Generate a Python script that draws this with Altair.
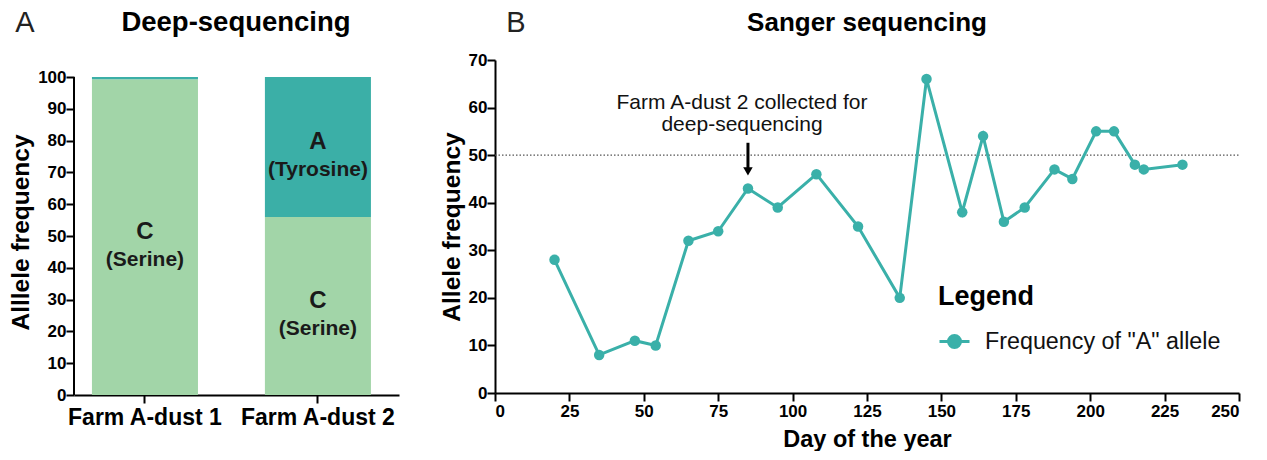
import altair as alt
import pandas as pd

# ---- Panel A data (deep-sequencing) ----
samples = ["Farm A-dust 1", "Farm A-dust 2"]
c_freq = [99.3, 56.0]
a_freq = [0.7, 44.0]
c_labels = ["C", "(Serine)"]
a_labels = ["A", "(Tyrosine)"]
pct_ticks = list(range(0, 101, 10))

# ---- Panel B data (Sanger sequencing) ----
days = [20, 35, 47, 54, 65, 75, 85, 95, 108, 122, 136, 145, 157, 164, 171, 178,
        188, 194, 202, 208, 215, 218, 231]
freq_a = [28, 8, 11, 10, 32, 34, 43, 39, 46, 35, 20, 66, 38, 54, 36, 39,
          47, 45, 55, 55, 48, 47, 48]
day_ticks = list(range(0, 251, 25))
freq_ticks = list(range(0, 71, 10))
series_name = 'Frequency of "A" allele'
threshold = [50]
annot_day = [85]
annot_text_day = [83]
annot_text = ["Farm A-dust 2 collected for\ndeep-sequencing"]
annot_text_y = [61.0]
arrow_from = [52.6]
arrow_to = [46.6]
panel_letters = ["A", "B"]
panel_titles = ["Deep-sequencing", "Sanger sequencing"]

LIGHT = "#A2D5A8"
DARK = "#3BAFA7"
TEAL = "#3AB0A9"
FONT = "Liberation Sans"

HA = 335          # panel A plot height (the 0-100 axis covers the lower 318 px)
A_TOP = 100 * HA / 318.0

rows = []
for s, c, a in zip(samples, c_freq, a_freq):
    rows.append({"sample": s, "allele": "C", "freq": c, "order": 0})
    rows.append({"sample": s, "allele": "A", "freq": a, "order": 1})
bar_df = pd.DataFrame(rows)

lab_rows = []
for s, c, a in zip(samples, c_freq, a_freq):
    lab_rows.append({"sample": s, "letter": c_labels[0], "aa": c_labels[1], "mid": c / 2})
    if a >= 5:
        lab_rows.append({"sample": s, "letter": a_labels[0], "aa": a_labels[1], "mid": c + a / 2})
lab_df = pd.DataFrame(lab_rows)

axA_x = alt.Axis(title=None, labelAngle=0, labelFontSize=23, labelPadding=3,
                 bandPosition=0.5, ticks=True)
axA_y = alt.Axis(title="Alllele frequency", values=pct_ticks, domain=False,
                 titlePadding=4, titleY=172, titleFontSize=24.5)
scA_x = alt.Scale(domain=samples, paddingInner=0.387, paddingOuter=0.133, align=0.39)
scA_y = alt.Scale(domain=[0, A_TOP], nice=False)

bars = alt.Chart(bar_df).mark_bar().encode(
    x=alt.X("sample:N", sort=samples, scale=scA_x, axis=axA_x),
    y=alt.Y("freq:Q", stack="zero", scale=scA_y, axis=axA_y),
    color=alt.Color("allele:N", scale=alt.Scale(domain=["C", "A"], range=[LIGHT, DARK]),
                    legend=None),
    order=alt.Order("order:Q"),
)

domA = alt.Chart(pd.DataFrame({"lo": [pct_ticks[0]], "hi": [pct_ticks[-1]]})).mark_rule(
    color="black", strokeWidth=2).encode(
    x=alt.value(0), y=alt.Y("lo:Q", scale=scA_y, axis=axA_y), y2="hi:Q")

lab_letter = alt.Chart(lab_df).mark_text(font=FONT, fontSize=24, fontWeight="bold",
                                         color="#1a1a1a", dy=-5).encode(
    x=alt.X("sample:N", sort=samples, scale=scA_x, axis=axA_x),
    y=alt.Y("mid:Q", scale=scA_y, axis=axA_y),
    text="letter:N")
lab_aa = alt.Chart(lab_df).mark_text(font=FONT, fontSize=21, fontWeight="bold",
                                     color="#1a1a1a", dy=23).encode(
    x=alt.X("sample:N", sort=samples, scale=scA_x, axis=axA_x),
    y=alt.Y("mid:Q", scale=scA_y, axis=axA_y),
    text="aa:N")

letterA = alt.Chart(pd.DataFrame({"t": [panel_letters[0]]})).mark_text(
    font=FONT, fontSize=29, color="#222", baseline="middle", align="center").encode(
    text="t:N", x=alt.value(-49), y=alt.value(-37))
titleA = alt.Chart(pd.DataFrame({"t": [panel_titles[0]]})).mark_text(
    font=FONT, fontSize=27.5, fontWeight="bold", color="black", baseline="middle",
    align="center").encode(text="t:N", x=alt.value(162), y=alt.value(-37))

panelA = alt.layer(bars, domA, lab_letter, lab_aa, letterA, titleA).properties(
    width=325, height=HA)

# ---- Panel B ----
line_df = pd.DataFrame({"day": days, "freq": freq_a, "series": series_name})

legend = alt.Legend(
    title="Legend", orient="none", legendX=443, legendY=224,
    titleFont=FONT, titleFontSize=27, titleFontWeight="bold", titleColor="black",
    titlePadding=14,
    labelFont=FONT, labelFontSize=23.3, labelColor="#111", labelFontWeight="normal",
    labelOffset=14, labelLimit=0,
    symbolType="M-1,0L1,0M-0.4,0A0.4,0.4,0,1,1,0.4,0A0.4,0.4,0,1,1,-0.4,0Z",
    symbolSize=900, symbolStrokeWidth=3, symbolFillColor=TEAL, symbolStrokeColor=TEAL,
)

xB = alt.X("day:Q", scale=alt.Scale(domain=[0, 250], nice=False),
           axis=alt.Axis(title="Day of the year", values=day_ticks, labelPadding=2,
                         titlePadding=8, titleFontSize=23.5))
yB = alt.Y("freq:Q", scale=alt.Scale(domain=[0, 70], nice=False),
           axis=alt.Axis(title="Allele frequency", values=freq_ticks, titlePadding=4,
                         titleFontSize=24.5))

thr = alt.Chart(pd.DataFrame({"y": threshold, "x0": [0], "x1": [250]})).mark_rule(
    color="#555", strokeWidth=1.3, strokeDash=[1.5, 2]).encode(
    x=alt.X("x0:Q"), x2="x1:Q", y=alt.Y("y:Q"))

line = alt.Chart(line_df).mark_line(
    strokeWidth=3,
    point=alt.OverlayMarkDef(filled=True, size=110),
).encode(
    x=xB, y=yB,
    color=alt.Color("series:N", scale=alt.Scale(domain=[series_name], range=[TEAL]),
                    legend=legend),
)

arrow_df = pd.DataFrame({"day": annot_day, "y0": arrow_from, "y1": arrow_to})
shaft = alt.Chart(arrow_df).mark_rule(color="black", strokeWidth=3).encode(
    x="day:Q", y="y0:Q", y2="y1:Q")
head = alt.Chart(arrow_df).mark_point(shape="triangle-down", filled=True, color="black",
                                      size=90, opacity=1).encode(
    x="day:Q", y="y1:Q")

annot = alt.Chart(pd.DataFrame({"day": annot_text_day, "y": annot_text_y,
                                "t": annot_text})).mark_text(
    font=FONT, fontSize=21, color="#111", lineBreak="\n", lineHeight=22,
    baseline="middle", align="center").encode(x="day:Q", y="y:Q", text="t:N")

letterB = alt.Chart(pd.DataFrame({"t": [panel_letters[1]]})).mark_text(
    font=FONT, fontSize=29, color="#222", baseline="middle", align="center").encode(
    text="t:N", x=alt.value(21), y=alt.value(-37))
titleB = alt.Chart(pd.DataFrame({"t": [panel_titles[1]]})).mark_text(
    font=FONT, fontSize=26, fontWeight="bold", color="black", baseline="middle",
    align="center").encode(text="t:N", x=alt.value(372), y=alt.value(-37))

panelB = alt.layer(thr, line, shaft, head, annot, letterB, titleB).properties(
    width=744, height=333)

chart = alt.hconcat(panelA, panelB, spacing=40).resolve_scale(
    color="independent").configure_view(stroke=None).configure_axis(
    domainColor="black", domainWidth=2, tickColor="black", tickWidth=2, tickSize=8,
    labelFont=FONT, labelFontWeight="bold", labelFontSize=17, labelColor="black",
    labelPadding=0,
    titleFont=FONT, titleFontWeight="bold", titleFontSize=24, titleColor="black",
    grid=False,
).properties(padding={"left": 0, "top": 1, "right": 4, "bottom": 0})

chart.save("out.html", embed_options={"renderer": "svg", "actions": False})
